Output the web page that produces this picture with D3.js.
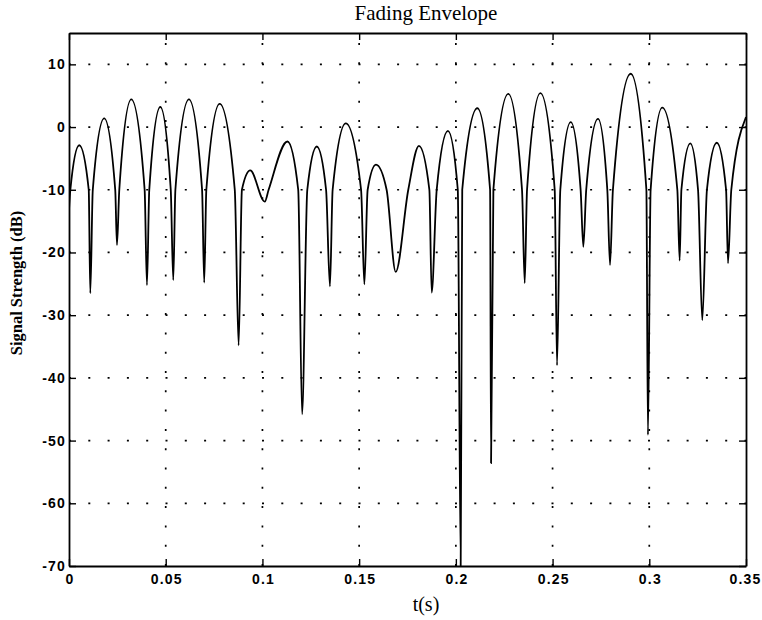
<!DOCTYPE html>
<html>
<head>
<meta charset="utf-8">
<script src="https://cdn.jsdelivr.net/npm/d3@7"></script>
<style>
  html, body { margin: 0; padding: 0; background: #fff; }
  svg { display: block; }
  .tick text { font-family: "Liberation Sans", Arial, sans-serif; font-size: 14px; font-weight: bold; letter-spacing: 1.2px; fill: #000; }
</style>
</head>
<body>
<svg id="chart" width="762" height="620"></svg>
<script>
// Time stamps (s) of the sampled envelope: peaks, -10 dB crossings and fades
const times = [
  0.0000, 0.0007, 0.0053, 0.0102, 0.0110, 0.0123, 0.0182, 0.0239, 0.0248, 0.0260,
  0.0322, 0.0391, 0.0403, 0.0415, 0.0472, 0.0526, 0.0539, 0.0550, 0.0620, 0.0688,
  0.0699, 0.0710, 0.0779, 0.0857, 0.0877, 0.0894, 0.0937, 0.1012, 0.1032, 0.1129,
  0.1185, 0.1205, 0.1232, 0.1281, 0.1329, 0.1349, 0.1363, 0.1431, 0.1510, 0.1527,
  0.1544, 0.1587, 0.1642, 0.1689, 0.1754, 0.1809, 0.1863, 0.1875, 0.1901, 0.1959,
  0.2010, 0.2025, 0.2033, 0.2111, 0.2177, 0.2182, 0.2194, 0.2271, 0.2342, 0.2356,
  0.2368, 0.2437, 0.2511, 0.2523, 0.2540, 0.2594, 0.2645, 0.2659, 0.2674, 0.2735,
  0.2783, 0.2797, 0.2812, 0.2904, 0.2985, 0.2993, 0.3007, 0.3067, 0.3145, 0.3157,
  0.3166, 0.3212, 0.3252, 0.3274, 0.3298, 0.3349, 0.3397, 0.3407, 0.3424, 0.3500
];

// Signal strength (dB) at those instants
const levels = [
  -13.2, -10.0,  -2.9, -10.0, -26.5, -10.0,   1.4, -10.0, -18.8, -10.0,
    4.4, -10.0, -25.2, -10.0,   3.2, -10.0, -24.4, -10.0,   4.4, -10.0,
  -24.8, -10.0,   3.7, -10.0, -34.8, -10.0,  -6.9, -11.9, -10.0,  -2.3,
  -10.0, -45.8, -10.0,  -3.1, -10.0, -25.4, -10.0,   0.6, -10.0, -25.1,
  -10.0,  -6.0, -10.0, -23.1, -10.0,  -3.0, -10.0, -26.4, -10.0,  -0.6,
  -10.0, -70.0, -10.0,   3.0, -10.0, -53.6, -10.0,   5.3, -10.0, -24.9,
  -10.0,   5.4, -10.0, -38.0, -10.0,   0.8, -10.0, -19.1, -10.0,   1.3,
  -10.0, -22.0, -10.0,   8.5, -10.0, -49.1, -10.0,   3.1, -10.0, -21.3,
  -10.0,  -2.6, -10.0, -30.8, -10.0,  -2.5, -10.0, -21.7, -10.0,   1.6
];

const xTicks = [0, 0.05, 0.1, 0.15, 0.2, 0.25, 0.3, 0.35];
const yTicks = [-70, -60, -50, -40, -30, -20, -10, 0, 10];

const chartTitle = "Fading Envelope";
const xTitle = "t(s)";
const yTitle = "Signal Strength (dB)";

const svg = d3.select("#chart");
const W = 762, H = 620;
const margin = { top: 33, right: 16, bottom: 54, left: 69 };
const w = W - margin.left - margin.right;
const h = H - margin.top - margin.bottom;

const x = d3.scaleLinear().domain([0, 0.35]).range([0, w]);
const y = d3.scaleLinear().domain([-70, 15]).range([h, 0]);

const g = svg.append("g").attr("transform", `translate(${margin.left},${margin.top})`);

g.append("clipPath").attr("id", "plot-clip")
  .append("rect").attr("width", w).attr("height", h);

// Dotted grid
const grid = g.append("g").attr("stroke", "#000").attr("stroke-width", 1.7)
  .attr("stroke-dasharray", "2,17.3").attr("fill", "none");
grid.selectAll("line.gx").data(xTicks.slice(1, -1)).join("line")
  .attr("class", "gx")
  .attr("x1", d => x(d)).attr("x2", d => x(d))
  .attr("y1", h).attr("y2", 0);
grid.selectAll("line.gy").data(yTicks.slice(1)).join("line")
  .attr("class", "gy")
  .attr("x1", 0).attr("x2", w)
  .attr("y1", d => y(d)).attr("y2", d => y(d));

// Envelope trace
const pts = times.map((t, i) => [t, levels[i]]);
const line = d3.line().x(d => x(d[0])).y(d => y(d[1])).curve(d3.curveMonotoneX);
g.append("path")
  .attr("clip-path", "url(#plot-clip)")
  .attr("d", line(pts))
  .attr("fill", "none").attr("stroke", "#000").attr("stroke-width", 1.8)
  .attr("stroke-linejoin", "round");

// Axes with inward ticks on all four sides
const fmtX = d => d === 0 ? "0" : String(d);
const styleAxis = sel => {
  sel.select(".domain").attr("stroke", "#000").attr("stroke-width", 1.8);
  sel.selectAll(".tick line").attr("stroke", "#000").attr("stroke-width", 1.4);
};

g.append("g").attr("transform", `translate(0,${h})`)
  .call(d3.axisBottom(x).tickValues(xTicks).tickFormat(fmtX).tickSize(-7).tickSizeOuter(0).tickPadding(8))
  .call(styleAxis)
  .call(s => s.selectAll(".tick text").attr("dx", d => d === 0.35 ? "-1px" : "0.6px"));

g.append("g")
  .call(d3.axisTop(x).tickValues(xTicks).tickFormat("").tickSize(-7).tickSizeOuter(0))
  .call(styleAxis);

g.append("g")
  .call(d3.axisLeft(y).tickValues(yTicks).tickFormat(d => d === 0 ? "0" : String(d)).tickSize(-7).tickSizeOuter(0).tickPadding(3))
  .call(styleAxis);

g.append("g").attr("transform", `translate(${w},0)`)
  .call(d3.axisRight(y).tickValues(yTicks).tickFormat("").tickSize(-7).tickSizeOuter(0))
  .call(styleAxis);

// Titles
const titleX = 426;
svg.append("text")
  .attr("x", titleX).attr("y", 20)
  .attr("text-anchor", "middle")
  .attr("font-family", "'Liberation Serif', 'Times New Roman', serif")
  .attr("font-size", 21)
  .text(chartTitle);

svg.append("text")
  .attr("x", titleX).attr("y", 611)
  .attr("text-anchor", "middle")
  .attr("font-family", "'Liberation Serif', 'Times New Roman', serif")
  .attr("font-size", 20)
  .text(xTitle);

svg.append("text")
  .attr("transform", `translate(22,283) rotate(-90)`)
  .attr("text-anchor", "middle")
  .attr("font-family", "'Liberation Serif', 'Times New Roman', serif")
  .attr("font-size", 16.5)
  .attr("font-weight", "bold")
  .text(yTitle);
</script>
</body>
</html>
